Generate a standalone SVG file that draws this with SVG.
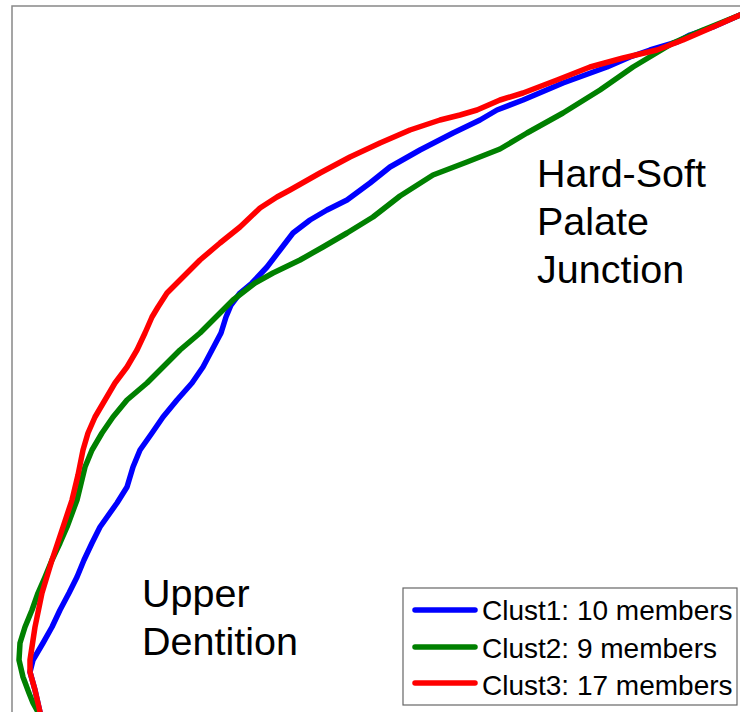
<svg xmlns="http://www.w3.org/2000/svg" width="740" height="712" viewBox="0 0 740 712">
<style>
.crv{fill:none;stroke-width:5.5;stroke-linejoin:round;stroke-linecap:round}
.b{stroke:#0000ff}.g{stroke:#008000}.r{stroke:#ff0000}
.lbl{font-family:"Liberation Sans",Arial,sans-serif;font-size:39.5px;fill:#000}
.leg{font-family:"Liberation Sans",Arial,sans-serif;font-size:28px;fill:#000}
.frame{fill:none;stroke:#888;stroke-width:1.5}
</style>
<rect width="740" height="712" fill="#fff"/>
<rect class="frame" x="12" y="6" width="760" height="730"/>
<g id="curves">
<polyline id="clust1" class="crv b" points="40,712 35,690 30,672 33,660 43,643 52,627 60,610 69,593 77,577 84,560 92,543 100,527 117,503 127,487 133,467 140,450 152,433 163,417 177,400 192,383 203,367 212,350 221,333 226,317 231,305 240,293 252,283 267,267 280,250 293,233 310,220 327,210 347,200 370,183 390,167 420,150 453,133 480,120 497,110 523,100 563,83 607,67 630,57 650,50 677,42 690,35 713,27 740,15"/>
<polyline id="clust2" class="crv g" points="38,712 33,703 29,693 23,677 19,660 20,643 25,627 32,610 38,593 45,577 52,560 60,543 67,527 77,500 85,467 92,450 102,433 113,417 127,400 147,383 163,367 180,350 200,333 217,316 233,300 255,283 273,273 300,260 323,247 347,233 373,217 400,196 433,175 467,162 500,149 527,133 563,113 600,90 633,67 673,43 703,30 740,15"/>
<polyline id="clust3" class="crv r" points="40,712 35,690 30,672 30,660 35,627 42,593 52,560 63,527 72,500 78,475 83,450 88,433 95,417 105,400 115,383 127,367 137,350 145,333 152,317 158,307 167,293 183,277 200,260 220,243 240,227 260,208 277,197 290,190 320,173 350,157 380,143 410,130 440,120 460,115 477,110 500,100 523,93 557,80 590,67 623,58 657,50 683,40 713,27 740,15"/>
</g>
<g id="label-hardsoft">
<text class="lbl" x="537" y="187">Hard-Soft</text>
<text class="lbl" x="537" y="235">Palate</text>
<text class="lbl" x="537" y="283">Junction</text>
</g>
<g id="label-upper">
<text class="lbl" x="142" y="607">Upper</text>
<text class="lbl" x="142" y="655">Dentition</text>
</g>
<g id="legend">
<rect x="403" y="588" width="334" height="117" fill="#fff" stroke="#666" stroke-width="1.2"/>
<line x1="415" y1="610" x2="475" y2="610" class="crv b"/>
<line x1="415" y1="647" x2="475" y2="647" class="crv g"/>
<line x1="415" y1="683" x2="475" y2="683" class="crv r"/>
<text class="leg" x="482" y="620">Clust1: 10 members</text>
<text class="leg" x="482" y="658">Clust2: 9 members</text>
<text class="leg" x="482" y="695">Clust3: 17 members</text>
</g>
</svg>
